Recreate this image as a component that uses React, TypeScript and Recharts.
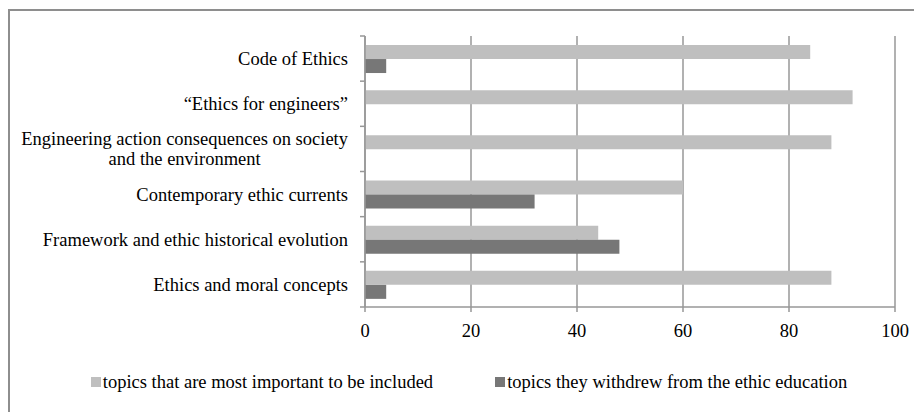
import { Bar, BarChart, CartesianGrid, Legend, XAxis, YAxis } from 'recharts';

const topics = [
  'Code of Ethics',
  '“Ethics for engineers”',
  'Engineering action consequences on society\nand the environment',
  'Contemporary ethic currents',
  'Framework and ethic historical evolution',
  'Ethics and moral concepts',
];
const mostImportant = [84, 92, 88, 60, 44, 88];
const withdrew = [4, 0, 0, 32, 48, 4];
const xTicks = [0, 20, 40, 60, 80, 100];

const SERIES = [
  { key: 'important', name: 'topics that are most important to be included', color: '#bfbfbf' },
  { key: 'withdrew', name: 'topics they withdrew from the ethic education', color: '#777777' },
];

const data = topics.map((topic, i) => ({
  topic,
  important: mostImportant[i],
  withdrew: withdrew[i],
}));

const FONT = '"Liberation Serif", "Times New Roman", serif';
const FONT_SIZE = 18.5;
const AXIS = '#979797';

const CHART_W = 912;
const CHART_H = 400;
const MARGIN = { top: 25, right: 27, left: 0, bottom: 74 };
const X_AXIS_H = 30;
const PLOT_H = CHART_H - MARGIN.top - MARGIN.bottom - X_AXIS_H;
const HALF_BAND = PLOT_H / topics.length / 2;
const LABEL_GAP = 17;

let ctx: CanvasRenderingContext2D | null = null;
const measure = (s: string) => {
  if (!ctx) ctx = document.createElement('canvas').getContext('2d');
  if (!ctx) return s.length * FONT_SIZE * 0.45;
  ctx.font = `${FONT_SIZE}px ${FONT}`;
  return ctx.measureText(s).width;
};

// category labels: multi-line ones are centred within their own block,
// plus the small outward ticks at the band boundaries
const TopicTick = (props: any) => {
  const { x, y, payload, index } = props;
  const axisX = x + LABEL_GAP;
  const lines = String(payload.value).split('\n');
  const blockW = Math.max(...lines.map(measure));
  const lineH = 20;
  const firstY = y - ((lines.length - 1) * lineH) / 2;
  return (
    <g>
      <line x1={axisX} x2={axisX - 5} y1={y - HALF_BAND} y2={y - HALF_BAND} stroke={AXIS} strokeWidth={1.5} />
      {index === topics.length - 1 && (
        <line x1={axisX} x2={axisX - 5} y1={y + HALF_BAND} y2={y + HALF_BAND} stroke={AXIS} strokeWidth={1.5} />
      )}
      {lines.map((line, i) => (
        <text
          key={i}
          x={lines.length > 1 ? x - blockW / 2 : x}
          y={firstY + i * lineH}
          dy='0.35em'
          textAnchor={lines.length > 1 ? 'middle' : 'end'}
          fontFamily={FONT}
          fontSize={FONT_SIZE}
          fill='#000'
        >
          {line}
        </text>
      ))}
    </g>
  );
};

const LegendContent = () => (
  <div
    style={{
      display: 'flex',
      justifyContent: 'center',
      gap: 62,
      paddingLeft: 6,
      fontFamily: FONT,
      fontSize: FONT_SIZE,
      color: '#000',
      lineHeight: '21px',
    }}
  >
    {SERIES.map((s) => (
      <div key={s.key} style={{ display: 'flex', alignItems: 'center' }}>
        <span style={{ width: 10, height: 10, background: s.color, marginRight: 2, marginTop: -2 }} />
        <span>{s.name}</span>
      </div>
    ))}
  </div>
);

export default function App() {
  return (
    // the frame runs past the right and bottom edges, so it is clipped
    <div style={{ width: 914, height: 403, marginTop: 1, overflow: 'hidden' }}>
      <div style={{ width: 930, height: 420, border: '2px solid #8e8e8e', background: '#fff' }}>
        <BarChart
          width={CHART_W}
          height={CHART_H}
          data={data}
          layout='vertical'
          margin={MARGIN}
          barCategoryGap='20%'
          barGap={0}
        >
          <CartesianGrid horizontal={false} stroke={AXIS} strokeWidth={1.5} />
          <XAxis
            type='number'
            domain={[0, 100]}
            ticks={xTicks}
            height={X_AXIS_H}
            tickSize={5}
            tickMargin={12}
            axisLine={{ stroke: AXIS, strokeWidth: 1.5 }}
            tickLine={{ stroke: AXIS, strokeWidth: 1.5 }}
            tick={{ fill: '#000', fontFamily: FONT, fontSize: FONT_SIZE }}
          />
          <YAxis
            type='category'
            dataKey='topic'
            width={355}
            tickSize={0}
            tickMargin={LABEL_GAP}
            tickLine={false}
            interval={0}
            axisLine={{ stroke: AXIS, strokeWidth: 1.5 }}
            tick={<TopicTick />}
          />
          <Legend
            layout='horizontal'
            verticalAlign='middle'
            align='center'
            content={<LegendContent />}
            wrapperStyle={{ top: 361, left: 0, width: CHART_W }}
          />
          {SERIES.map((s) => (
            <Bar key={s.key} dataKey={s.key} name={s.name} fill={s.color} isAnimationActive={false} />
          ))}
        </BarChart>
      </div>
    </div>
  );
}
